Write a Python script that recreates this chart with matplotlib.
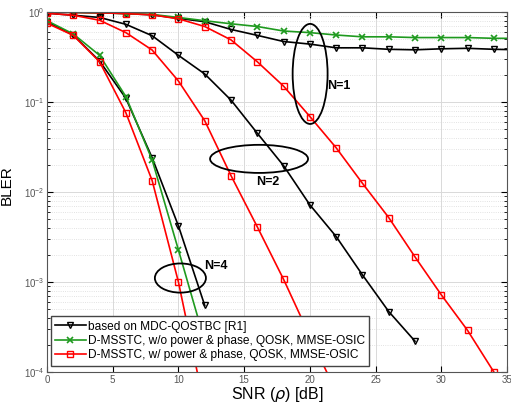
import numpy as np
import matplotlib.pyplot as plt
from matplotlib.patches import Ellipse

plt.rcParams['font.family'] = ['Liberation Sans', 'DejaVu Sans']

# N=1
snr1 = [0, 2, 4, 6, 8, 10, 12, 14, 16, 18, 20, 22, 24, 26, 28, 30, 32, 34, 36]
mdc1 = [1.0, 0.99, 0.98, 0.96, 0.93, 0.85, 0.78, 0.64, 0.55, 0.47, 0.44, 0.40,
        0.40, 0.385, 0.38, 0.39, 0.395, 0.385, 0.38]
wo1 = [1.0, 0.99, 0.98, 0.96, 0.94, 0.87, 0.80, 0.74, 0.69, 0.615, 0.59, 0.555,
       0.53, 0.53, 0.52, 0.52, 0.52, 0.51, 0.51]
snr1r = [0, 2, 4, 6, 8, 10, 12, 14, 16, 18, 20, 22, 24, 26, 28, 30, 32, 34]
w1 = [1.0, 0.99, 0.98, 0.96, 0.93, 0.84, 0.69, 0.49, 0.28, 0.15, 0.069, 0.031,
      0.0125, 0.0052, 0.0019, 7.2e-4, 2.9e-4, 1.0e-4]

# N=2
snr2 = [0, 2, 4, 6, 8, 10, 12, 14, 16, 18, 20, 22, 24, 26, 28]
mdc2 = [0.97, 0.92, 0.87, 0.73, 0.545, 0.33, 0.205, 0.105, 0.045, 0.0196,
        0.0072, 0.0032, 0.0012, 4.7e-4, 2.2e-4]
snr2r = [0, 2, 4, 6, 8, 10, 12, 14, 16, 18, 20, 22]
w2 = [0.97, 0.92, 0.81, 0.59, 0.378, 0.171, 0.062, 0.0152, 0.0041, 0.00107,
      2.5e-4, 6e-5]

# N=4
snr4 = [0, 2, 4, 6, 8, 10, 12]
mdc4 = [0.78, 0.555, 0.285, 0.11, 0.024, 0.0042, 5.5e-4]
wo4 = [0.80, 0.57, 0.33, 0.115, 0.0227, 0.00227, 2.2e-4]
w4 = [0.75, 0.55, 0.28, 0.076, 0.0134, 1.0e-3, 4e-5]

labels = ['based on MDC-QOSTBC [R1]',
          'D-MSSTC, w/o power & phase, QOSK, MMSE-OSIC',
          'D-MSSTC, w/ power & phase, QOSK, MMSE-OSIC']

green = '#1f9a1f'
red = '#ff0000'

fig = plt.figure(figsize=(5.11, 4.04), dpi=100)
ax = fig.add_axes([47/511, 32/404, 460/511, 360/404])

kb = dict(color='black', marker='v', mfc='none', ms=5, lw=1.2, mew=1.0)
kg = dict(color=green, marker='x', ms=4.5, lw=1.2, mew=1.2)
kr = dict(color=red, marker='s', mfc='none', ms=4.5, lw=1.2, mew=1.0)

ax.semilogy(snr1, mdc1, label=labels[0], **kb)
ax.semilogy(snr1, wo1, label=labels[1], **kg)
ax.semilogy(snr1r, w1, label=labels[2], **kr)
ax.semilogy(snr2, mdc2, **kb)
ax.semilogy(snr2r, w2, **kr)
ax.semilogy(snr4, mdc4, **kb)
ax.semilogy(snr4, wo4, **kg)
ax.semilogy(snr4, w4, **kr)

ax.set_xlim(0, 35)
ax.set_ylim(1e-4, 1)
ax.set_xticks([0, 5, 10, 15, 20, 25, 30, 35])
ax.grid(True, which='major', color='#d9d9d9', lw=0.7)
ax.grid(True, which='minor', axis='y', color='#d9d9d9', lw=0.6, ls=':')
ax.tick_params(which='both', direction='in', labelsize=7, labelcolor='#555555',
               top=True, right=True, pad=2)
ax.tick_params(which='major', length=4)
ax.tick_params(which='minor', length=2)
for s in ax.spines.values():
    s.set_color('#555555')

ax.set_xlabel(r'SNR ($\rho$) [dB]', fontsize=11.5, labelpad=0)
ax.set_ylabel('BLER', fontsize=11)
ax.yaxis.set_label_coords(-0.072, 0.52)

# ellipses marking the antenna groups
for cx, cy, w, h in [(0.572, 0.828, 0.076, 0.278),
                     (0.461, 0.592, 0.213, 0.078),
                     (0.290, 0.261, 0.111, 0.081)]:
    ax.add_patch(Ellipse((cx, cy), w, h, transform=ax.transAxes,
                         fill=False, ec='black', lw=1.3, zorder=5))
ax.text(0.635, 0.794, 'N=1', transform=ax.transAxes, fontsize=9,
        fontweight='bold', ha='center', va='center')
ax.text(0.480, 0.528, 'N=2', transform=ax.transAxes, fontsize=9,
        fontweight='bold', ha='center', va='center')
ax.text(0.367, 0.294, 'N=4', transform=ax.transAxes, fontsize=9,
        fontweight='bold', ha='center', va='center')

leg = ax.legend(loc='lower left', bbox_to_anchor=(0.008, 0.018), fontsize=8.6,
                fancybox=False, framealpha=1, edgecolor='#444444',
                handlelength=2.6, handletextpad=0.15, borderpad=0.35,
                labelspacing=0.2, borderaxespad=0)
leg.set_zorder(10)

fig.savefig('out.png', dpi=100)
